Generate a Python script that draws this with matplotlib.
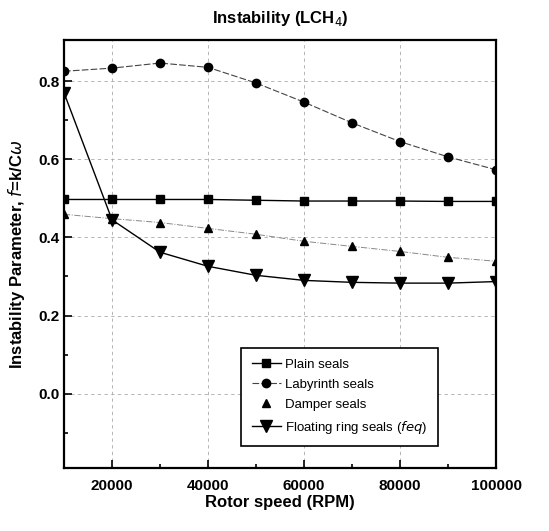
import numpy as np
from matplotlib import pyplot as plt

plt.rcParams['font.family'] = ['Liberation Sans', 'DejaVu Sans']

# rotor speed (RPM)
speed = [10000, 20000, 30000, 40000, 50000, 60000, 70000, 80000, 90000, 100000]

# instability parameter for each seal type
plain = [0.497, 0.497, 0.497, 0.497, 0.495, 0.493, 0.493, 0.493, 0.492, 0.492]
labyrinth = [0.825, 0.833, 0.846, 0.835, 0.795, 0.746, 0.693, 0.645, 0.606, 0.573]
damper = [0.459, 0.448, 0.438, 0.423, 0.408, 0.390, 0.377, 0.364, 0.349, 0.339]
floating = [0.770, 0.445, 0.362, 0.326, 0.303, 0.290, 0.285, 0.283, 0.283, 0.287]

fig = plt.figure(figsize=(5.49, 5.31), dpi=100)
ax = fig.add_axes([0.1166, 0.1186, 0.7869, 0.8061])

ax.plot(speed, plain, '-', color='black', lw=1.0, marker='s', ms=6, label='Plain seals')
ax.plot(speed, labyrinth, '--', color='#444444', lw=0.8, dashes=(6, 2), marker='o', ms=6,
        markerfacecolor='black', markeredgecolor='black', label='Labyrinth seals')
ax.plot(speed, damper, '-.', color='#888888', lw=0.7, marker='^', ms=6,
        markerfacecolor='black', markeredgecolor='black')
ax.plot([], [], ls='none', color='black', marker='^', ms=6, label='Damper seals')
ax.plot(speed, floating, '-', color='black', lw=1.0, marker='v', ms=8,
        label='Floating ring seals ($\\it{feq}$)')

ax.set_xlim(10000, 100000)
ax.set_ylim(-0.19, 0.905)
ax.set_xticks([20000, 40000, 60000, 80000, 100000])
ax.set_xticks([30000, 50000, 70000, 90000], minor=True)
ax.set_yticks([0.0, 0.2, 0.4, 0.6, 0.8])
ax.set_yticks([-0.1, 0.1, 0.3, 0.5, 0.7], minor=True)
ax.set_yticklabels(['0.0', '0.2', '0.4', '0.6', '0.8'])
ax.tick_params(which='both', direction='in', width=1.2)
ax.tick_params(which='major', length=6, labelsize=11)
ax.tick_params(which='minor', length=3)
ax.tick_params(axis='x', which='major', pad=8)
for lab in ax.get_xticklabels() + ax.get_yticklabels():
    lab.set_fontweight('bold')

ax.grid(True, which='major', ls=(0, (4, 4)), color='#aaaaaa', lw=0.6)
for s in ax.spines.values():
    s.set_linewidth(1.6)

ax.set_title('Instability (LCH$_4$)', fontsize=12, fontweight='bold', pad=12)
ax.set_xlabel('Rotor speed (RPM)', fontsize=12, fontweight='bold', labelpad=1)
ax.set_ylabel('Instability Parameter, $\\it{f}$=k/C$\\omega$', fontsize=12, fontweight='bold',
              labelpad=8)

leg = ax.legend(loc='lower left', bbox_to_anchor=(0.395, 0.035), fontsize=9.5,
                fancybox=False, edgecolor='black', framealpha=1, handlelength=2.2,
                handletextpad=0.3, borderpad=0.8, labelspacing=0.6)
leg.get_frame().set_linewidth(1.2)

plt.savefig('out.png', dpi=100)
